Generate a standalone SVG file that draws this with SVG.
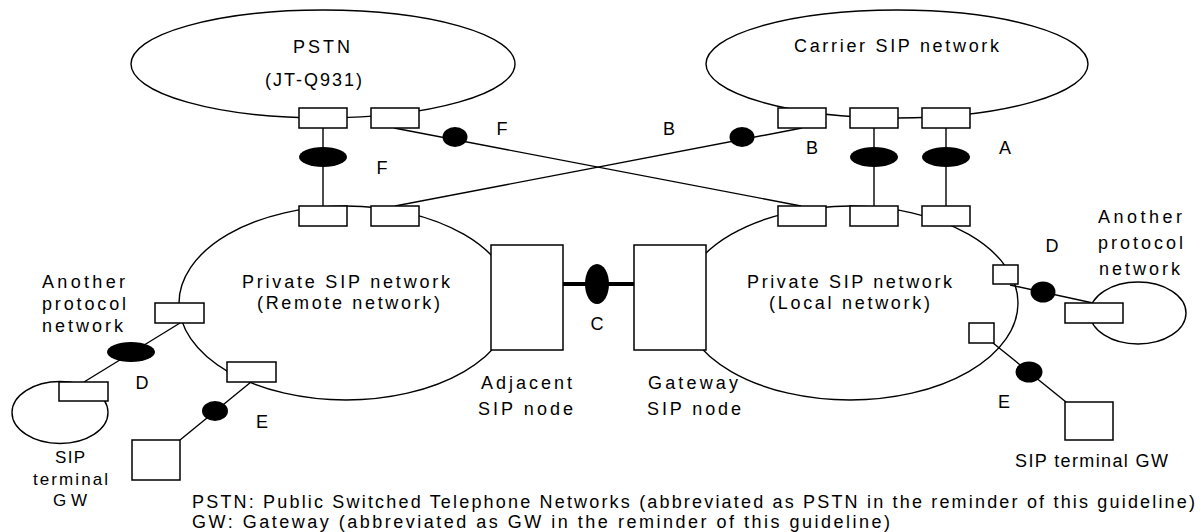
<svg xmlns="http://www.w3.org/2000/svg" width="1200" height="532" viewBox="0 0 1200 532">
<style>
.net{fill:none;stroke:#000;stroke-width:1.4}
.box{fill:#fff;stroke:#000;stroke-width:1.5}
.ln{fill:none;stroke:#000;stroke-width:1.4}
.dot{fill:#000;stroke:none}
text{font-family:"Liberation Sans",Arial,sans-serif;font-size:18px;fill:#000}
.m{text-anchor:middle}
.fn{font-size:18px}
</style>
<rect width="1200" height="532" fill="#fff"/>
<g id="connectors">
<line class="ln" x1="323" y1="128" x2="323" y2="206"/>
<line class="ln" x1="874" y1="128" x2="874" y2="206"/>
<line class="ln" x1="946" y1="128" x2="946" y2="206"/>
<line class="ln" x1="394" y1="128" x2="801" y2="206"/>
<line class="ln" x1="395" y1="206" x2="802" y2="128"/>
<line x1="563" y1="284" x2="634" y2="284" stroke="#000" stroke-width="4" stroke-linecap="round"/>
<line class="ln" x1="180" y1="323" x2="84" y2="382"/>
<line class="ln" x1="251" y1="382" x2="180" y2="440"/>
<line class="ln" x1="1010" y1="285" x2="1093" y2="303"/>
<line class="ln" x1="993" y1="343" x2="1066" y2="402"/>
<ellipse class="dot" cx="323" cy="157" rx="24" ry="10"/>
<ellipse class="dot" cx="874" cy="157" rx="24" ry="10"/>
<ellipse class="dot" cx="946" cy="157" rx="24" ry="10"/>
<ellipse class="dot" cx="455" cy="137" rx="12.5" ry="10"/>
<ellipse class="dot" cx="742" cy="137" rx="12.5" ry="10"/>
<ellipse class="dot" cx="597" cy="284" rx="12" ry="20"/>
<ellipse class="dot" cx="131" cy="352" rx="24" ry="10"/>
<ellipse class="dot" cx="215" cy="411" rx="13" ry="10"/>
<ellipse class="dot" cx="1043" cy="292" rx="12.5" ry="10.5"/>
<ellipse class="dot" cx="1029" cy="372" rx="13.5" ry="10.5"/>
<text class="m" x="382" y="174">F</text>
<text class="m" x="502" y="135">F</text>
<text class="m" x="669" y="135">B</text>
<text class="m" x="812" y="154">B</text>
<text class="m" x="1005" y="154">A</text>
<text class="m" x="597" y="330">C</text>
<text class="m" x="142" y="389">D</text>
<text class="m" x="262" y="428">E</text>
<text class="m" x="1052" y="252">D</text>
<text class="m" x="1004" y="408">E</text>
</g>
<g id="pstn">
<ellipse class="net" cx="323" cy="64" rx="192" ry="54"/>
<text x="293" y="53" textLength="57">PSTN</text>
<text x="265" y="86" textLength="97">(JT-Q931)</text>
<rect class="box" x="299" y="108" width="48" height="20"/>
<rect class="box" x="371" y="108" width="48" height="20"/>
</g>
<g id="carrier">
<ellipse class="net" cx="897" cy="64" rx="191" ry="54"/>
<text x="794" y="52" textLength="205">Carrier SIP network</text>
<rect class="box" x="778" y="108" width="48" height="20"/>
<rect class="box" x="850" y="108" width="48" height="20"/>
<rect class="box" x="922" y="108" width="48" height="20"/>
</g>
<g id="remote">
<ellipse class="net" cx="346" cy="303" rx="167" ry="97"/>
<text x="242" y="288" textLength="208">Private SIP network</text>
<text x="257" y="309" textLength="183">(Remote network)</text>
<rect class="box" x="299" y="206" width="48" height="20"/>
<rect class="box" x="371" y="206" width="48" height="20"/>
<rect class="box" x="155" y="303" width="49" height="20"/>
<rect class="box" x="227" y="362" width="49" height="20"/>
</g>
<g id="local">
<ellipse class="net" cx="850" cy="303" rx="168" ry="97"/>
<text x="747" y="288" textLength="205">Private SIP network</text>
<text x="769" y="309" textLength="161">(Local network)</text>
<rect class="box" x="778" y="206" width="48" height="20"/>
<rect class="box" x="850" y="206" width="48" height="20"/>
<rect class="box" x="922" y="206" width="48" height="20"/>
<rect class="box" x="993" y="265" width="25" height="19"/>
<rect class="box" x="969" y="323" width="25" height="20"/>
</g>
<g id="adjacent">
<rect class="box" x="491" y="245" width="72" height="105"/>
<text x="481" y="389" textLength="91">Adjacent</text>
<text x="478" y="415" textLength="95">SIP node</text>
</g>
<g id="gateway">
<rect class="box" x="634" y="245" width="72" height="105"/>
<text x="648" y="389" textLength="90">Gateway</text>
<text x="647" y="415" textLength="94">SIP node</text>
</g>
<g id="other-left">
<text x="42" y="288" textLength="83">Another</text>
<text x="42" y="310" textLength="84">protocol</text>
<text x="42" y="332" textLength="81">network</text>
</g>
<g id="sipgw-left">
<ellipse class="net" cx="60" cy="412.5" rx="48" ry="31"/>
<rect class="box" x="59" y="382" width="49" height="19"/>
<text style="font-size:17px" x="55" y="463" textLength="30">SIP</text>
<text style="font-size:17px" x="33" y="485" textLength="75">terminal</text>
<text style="font-size:17px" x="53" y="506" textLength="34">GW</text>
</g>
<g id="terminal-left">
<rect class="box" x="132" y="440" width="48" height="40"/>
</g>
<g id="other-right">
<ellipse class="net" cx="1138" cy="313" rx="48" ry="31"/>
<rect class="box" x="1065" y="303" width="58" height="20"/>
<text x="1098" y="223" textLength="84">Another</text>
<text x="1098" y="249" textLength="85">protocol</text>
<text x="1099" y="275" textLength="81">network</text>
</g>
<g id="terminal-right">
<rect class="box" x="1065" y="402" width="48" height="38"/>
<text x="1015" y="467" textLength="153">SIP terminal GW</text>
</g>
<g id="footnote">
<text class="fn" x="192" y="508" textLength="1003">PSTN: Public Switched Telephone Networks (abbreviated as PSTN in the reminder of this guideline)</text>
<text class="fn" x="192" y="528" textLength="698">GW: Gateway (abbreviated as GW in the reminder of this guideline)</text>
</g>
</svg>
